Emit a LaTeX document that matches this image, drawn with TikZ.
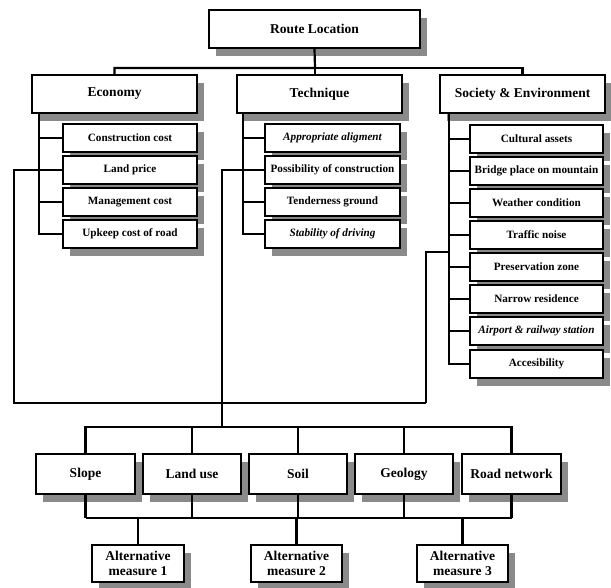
\documentclass[tikz,border=0pt]{standalone}
\usepackage{fontspec}
\setmainfont{Liberation Serif}
\usetikzlibrary{shadows}
\definecolor{shadowgray}{RGB}{138,138,138}
\begin{document}
\begin{tikzpicture}[x=1pt,y=-1pt,
  box/.style={draw=black, line width=2pt, fill=white, inner sep=0pt, align=center,
    font=\bfseries\fontsize{13.5}{15}\selectfont,
    drop shadow={shadow xshift=7pt, shadow yshift=-8pt, fill=shadowgray, opacity=1}},
  mainbox/.style={box, minimum width=165pt, minimum height=38pt},
  subbox/.style={box, minimum width=134pt, minimum height=28pt, font=\bfseries\fontsize{11.2}{13}\selectfont},
  facbox/.style={box, minimum width=98pt, minimum height=40pt},
  altbox/.style={box, minimum width=91pt, minimum height=37pt, font=\bfseries\fontsize{13.5}{14.5}\selectfont},
  link/.style={line width=2.2pt}]
\useasboundingbox (0,0) rectangle (611,587);

% top level
\node[box, minimum width=211pt, minimum height=38pt] (root) at (314.5,29) {Route Location};
\node[mainbox] (eco)  at (114.5,94) {Economy};
\node[mainbox] (tech) at (319.5,94) {Technique};
\node[mainbox] (soc)  at (522.5,94) {Society \& Environment};

% economy items
\node[subbox] (e1) at (130,138) {Construction cost};
\node[subbox] (e2) at (130,170) {Land price};
\node[subbox] (e3) at (130,202) {Management cost};
\node[subbox] (e4) at (130,234) {Upkeep cost of road};

% technique items
\node[subbox, minimum width=135pt] (t1) at (332.5,138) {\itshape Appropriate aligment};
\node[subbox, minimum width=135pt] (t2) at (332.5,170) {Possibility of construction};
\node[subbox, minimum width=135pt] (t3) at (332.5,202) {Tenderness ground};
\node[subbox, minimum width=135pt] (t4) at (332.5,234) {\itshape Stability of driving};

% society items
\node[subbox, minimum width=133pt] (s1) at (536.5,139) {Cultural assets};
\node[subbox, minimum width=133pt] (s2) at (536.5,171) {Bridge place on mountain};
\node[subbox, minimum width=133pt] (s3) at (536.5,203) {Weather condition};
\node[subbox, minimum width=133pt] (s4) at (536.5,235) {Traffic noise};
\node[subbox, minimum width=133pt] (s5) at (536.5,267) {Preservation zone};
\node[subbox, minimum width=133pt] (s6) at (536.5,299) {Narrow residence};
\node[subbox, minimum width=133pt] (s7) at (536.5,331) {\itshape Airport \& railway station};
\node[subbox, minimum width=133pt] (s8) at (536.5,364) {Accesibility};

% factors
\node[facbox, minimum width=99pt] (f1) at (85.5,474) {Slope};
\node[facbox] (f2) at (192,474) {Land use};
\node[facbox] (f3) at (298,474) {Soil};
\node[facbox] (f4) at (404,474) {Geology};
\node[facbox, minimum width=99pt] (f5) at (511.5,474) {Road network};

% alternatives
\node[altbox, minimum width=92pt] (a1) at (138,563.5) {Alternative\\measure 1};
\node[altbox] (a2) at (296.5,563.5) {Alternative\\measure 2};
\node[altbox] (a3) at (462.5,563.5) {Alternative\\measure 3};

% helper coordinates
\coordinate (busA) at (315,68);
\coordinate (et) at (39,113);
\coordinate (tt) at (243,113);
\coordinate (st) at (449,113);
\coordinate (sj) at (449,252);
\coordinate (fbL) at (14,403);
\coordinate (fbR) at (426,403);
\coordinate (hub) at (222,427);
\coordinate (busC) at (0,518);

% top connectors
\draw[link] (root.south) -- (busA) -| (eco.north);
\draw[link] (busA) -| (soc.north);
\draw[link] (busA) -- (busA |- tech.north);

% trunks
\foreach \i in {1,...,4} { \draw[link] (et) |- (e\i.west); }
\foreach \i in {1,...,4} { \draw[link] (tt) |- (t\i.west); }
\foreach \i in {1,...,8} { \draw[link] (st) |- (s\i.west); }

% feedback lines
\draw[link] (e2.west) -| (fbL) -- (fbR);
\draw[link] (sj) -| (fbR);
\draw[link] (t2.west) -| (hub);

% factor buses
\foreach \i in {1,...,5} { \draw[link] (hub) -| (f\i.north); }
\foreach \i in {1,...,5} { \draw[link] (f\i.south) -- (f\i.south |- busC); }
\draw[link] (f1.south |- busC) -- (f5.south |- busC);
\draw[link] (a1.north |- busC) -- (a1.north);
\draw[link] (a2.north |- busC) -- (a2.north);
\draw[link] (a3.north |- busC) -- (a3.north);
\end{tikzpicture}
\end{document}
